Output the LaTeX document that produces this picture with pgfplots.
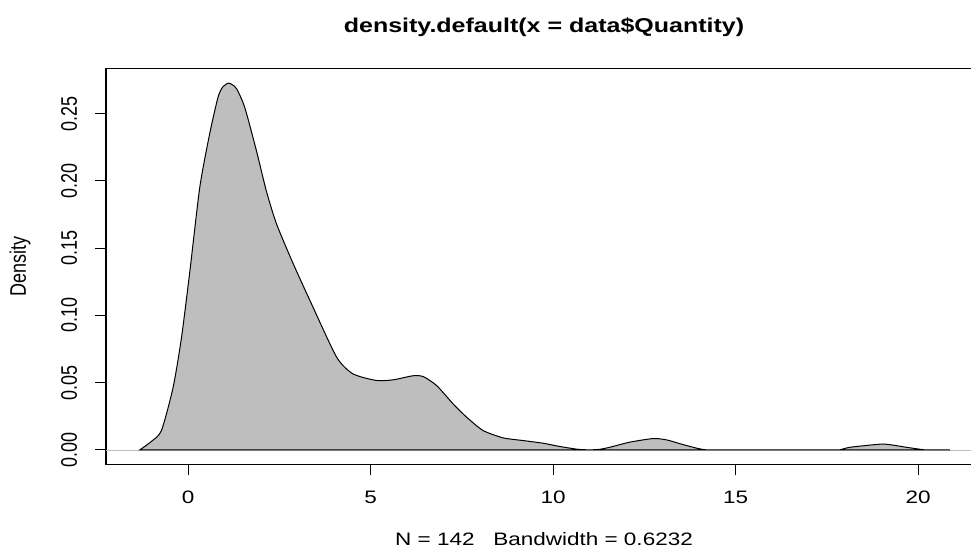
\documentclass[border=0pt]{standalone}
\usepackage{pgfplots}
\pgfplotsset{compat=1.18}
\usepackage{fontspec}
\usepackage{graphicx}
\setmainfont{Liberation Sans}[FakeStretch=1.25]
\newfontfamily\rotfont{Liberation Sans}
\definecolor{rgrey}{RGB}{190,190,190}

\begin{document}
\begin{tikzpicture}
\clip (-53pt,-42.75pt) rectangle (432.5pt,232.25pt);
\begin{axis}[
  name=ax,
  at={(0,0)}, anchor=south west,
  scale only axis, width=438pt, height=198pt,
  xmin=-2.25, xmax=21.75, ymin=-0.0109, ymax=0.2837,
  axis line style={line width=0.6pt},
  tick align=outside, major tick length=5.5pt,
  tick style={line width=0.5pt, black},
  xtick={0,5,10,15,20}, ytick={0,0.05,0.10,0.15,0.20,0.25},
  xtick pos=bottom, ytick pos=left,
  /pgf/number format/assume math mode=true,
  xticklabel style={font=\fontsize{9}{10}\selectfont, anchor=base, inner sep=0pt},
  xticklabel shift=13.9pt,
  yticklabel style={font=\rotfont\fontsize{9}{10}\selectfont, rotate=90, anchor=base, inner sep=0pt},
  yticklabel shift=9pt,
  yticklabel={\scalebox{1}[1.25]{\pgfmathprintnumber[fixed,fixed zerofill,precision=2]{\tick}}},
]
\addplot[draw=rgrey, line width=0.3pt, forget plot] coordinates {(-2.25,0) (21.75,0)};
\addplot[fill=rgrey, draw=black, line width=0.5pt, smooth, tension=0.4] coordinates {
(-1.32,0) (-1.00,0.0064) (-0.73,0.0144) (-0.41,0.0466) (-0.18,0.0838)
(0.05,0.1334) (0.32,0.1954) (0.59,0.2351) (0.82,0.2624) (0.95,0.2700)
(1.10,0.2728) (1.20,0.2718) (1.33,0.2686) (1.55,0.2549) (1.87,0.2227)
(2.14,0.1929) (2.42,0.1682) (2.88,0.1384) (3.38,0.1086) (4.07,0.0689)
(4.52,0.0565) (5.16,0.0516) (5.62,0.0521) (6.16,0.0551) (6.44,0.0545)
(6.81,0.0478) (7.26,0.0342) (7.63,0.0243) (8.08,0.0144) (8.63,0.0089)
(9.18,0.0069) (9.73,0.0049) (10.18,0.0025) (10.68,0.0004) (11.01,0)
(11.28,0.0004) (11.55,0.0019) (12.10,0.0057) (12.74,0.0084) (13.11,0.0074)
(13.56,0.0039) (13.97,0.0010) (14.20,0) (14.6,0) (15.2,0) (16.0,0) (16.8,0)
(17.4,0) (17.85,0) (18.13,0.0019)
(18.95,0.0042) (19.22,0.0039) (19.68,0.0019) (20.18,0) (20.5,0) (20.87,0)
} -- cycle;
\end{axis}
\node[anchor=base, font=\bfseries\fontsize{10}{12}\selectfont] at ([yshift=17.9pt]ax.north) {density.default(x = data\$Quantity)};
\node[anchor=base, font=\fontsize{9}{10}\selectfont] at ([yshift=-40.75pt]ax.south) {N = 142\ \ \ Bandwidth = 0.6232};
\node[rotate=90, anchor=base, font=\rotfont\fontsize{9}{10}\selectfont] at ([xshift=-40pt]ax.west) {\scalebox{1}[1.25]{Density}};
\end{tikzpicture}
\end{document}
